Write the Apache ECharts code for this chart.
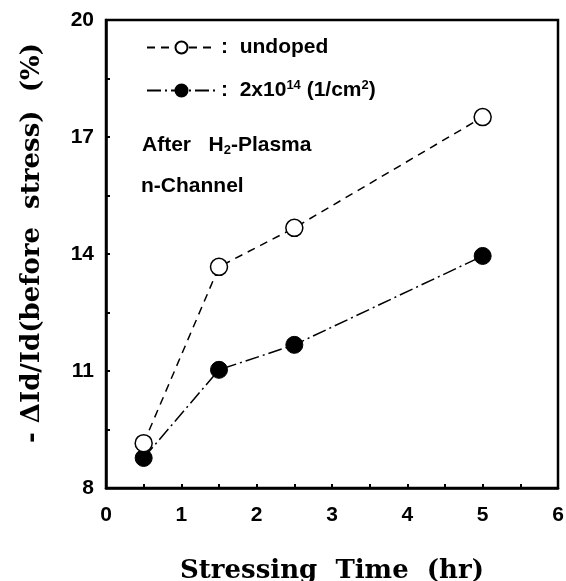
<!DOCTYPE html>
<html>
<head>
<meta charset="utf-8">
<script src="https://cdn.jsdelivr.net/npm/echarts@6/dist/echarts.min.js"></script>
<style>
  html, body { margin: 0; padding: 0; background: #fff; }
  #chart { width: 566px; height: 581px; }
</style>
</head>
<body>
<div id="chart"></div>
<script>
// stressing time (hr)
const times = [0.5, 1.5, 2.5, 5];
// -dId/Id (%)
const undoped = [9.15, 13.67, 14.67, 17.51];
const doped = [8.77, 11.03, 11.67, 13.95];

const xLabels = [0, 1, 2, 3, 4, 5, 6];
const xTicks = [0, 0.5, 1, 1.5, 2, 2.5, 3, 3.5, 4, 4.5, 5, 5.5, 6];
const yLabels = [8, 11, 14, 17, 20];
const yTicks = [8, 9.5, 11, 12.5, 14, 15.5, 17, 18.5, 20];

const seriesNames = ['undoped', '2x10^14 (1/cm^2)'];

const chart = echarts.init(document.getElementById('chart'));

const sans = 'Arial, "Liberation Sans", sans-serif';
const labelFont = { color: '#000', fontFamily: sans, fontWeight: 'bold', fontSize: 21 };
const serifName = { color: '#000', fontFamily: '"DejaVu Serif", serif', fontWeight: 'bold' };

function pairs(ys) {
  return times.map((t, i) => [t, ys[i]]);
}

chart.setOption({
  animation: false,
  backgroundColor: '#fff',
  grid: {
    left: 106, right: 8, top: 20, bottom: 93,
    outerBoundsMode: 'none', containLabel: false,
    show: true, borderColor: '#000', borderWidth: 2.5, backgroundColor: 'transparent'
  },
  xAxis: {
    type: 'value', min: 0, max: 6,
    name: 'Stressing  Time  (hr)',
    nameLocation: 'middle', nameGap: 70,
    nameTextStyle: Object.assign({ fontSize: 26 }, serifName),
    axisLine: { lineStyle: { color: '#000', width: 2.5 } },
    axisTick: { inside: true, length: 4, lineStyle: { color: '#000', width: 2 }, customValues: xTicks },
    axisLabel: Object.assign({ margin: 17, customValues: xLabels }, labelFont),
    splitLine: { show: false }
  },
  yAxis: {
    type: 'value', min: 8, max: 20,
    name: '- ΔId/Id(before  stress)  (%)',
    nameLocation: 'middle', nameGap: 61, nameRotate: 90,
    nameTextStyle: Object.assign({ fontSize: 26, padding: [0, 0, 0, 22] }, serifName),
    axisLine: { lineStyle: { color: '#000', width: 2.5 } },
    axisTick: { inside: true, length: 4, lineStyle: { color: '#000', width: 2 }, customValues: yTicks },
    axisLabel: Object.assign({ margin: 12, customValues: yLabels }, labelFont),
    splitLine: { show: false }
  },
  legend: {
    orient: 'vertical',
    left: 141, top: 32,
    itemWidth: 69, itemHeight: 15, itemGap: 21,
    data: seriesNames,
    formatter: function (name) {
      if (name === seriesNames[0]) return ':  undoped';
      return ':  2x10{sup|14} (1/cm{sup|2})';
    },
    textStyle: {
      color: '#000', fontFamily: sans, fontWeight: 'bold', fontSize: 21,
      rich: {
        sup: { fontFamily: sans, fontWeight: 'bold', fontSize: 13, verticalAlign: 'top', padding: [0, 0, 10, 0], color: '#000' }
      }
    },
    itemTextGap: 12
  },
  graphic: [
    {
      type: 'text', left: 142, top: 135,
      style: {
        text: 'After   H{sub|2}-Plasma',
        fill: '#000', font: 'bold 21px ' + sans,
        rich: { sub: { fontSize: 13, fontWeight: 'bold', fontFamily: sans, fill: '#000', padding: [10, 0, 0, 0], verticalAlign: 'bottom' } }
      }
    },
    {
      type: 'text', left: 141, top: 176,
      style: { text: 'n-Channel', fill: '#000', font: 'bold 21px ' + sans }
    }
  ],
  series: [
    {
      name: seriesNames[0], type: 'line', data: pairs(undoped),
      symbol: 'circle', symbolSize: 17,
      itemStyle: { color: '#fff', borderColor: '#000', borderWidth: 1.5 },
      lineStyle: { color: '#000', width: 1.5, type: [8, 6] },
      z: 3
    },
    {
      name: seriesNames[1], type: 'line', data: pairs(doped),
      symbol: 'circle', symbolSize: 17,
      itemStyle: { color: '#000', borderColor: '#000', borderWidth: 1 },
      lineStyle: { color: '#000', width: 1.5, type: [14, 4, 2, 4] },
      z: 2
    }
  ]
});

window.addEventListener('resize', function () { chart.resize(); });
</script>
</body>
</html>
